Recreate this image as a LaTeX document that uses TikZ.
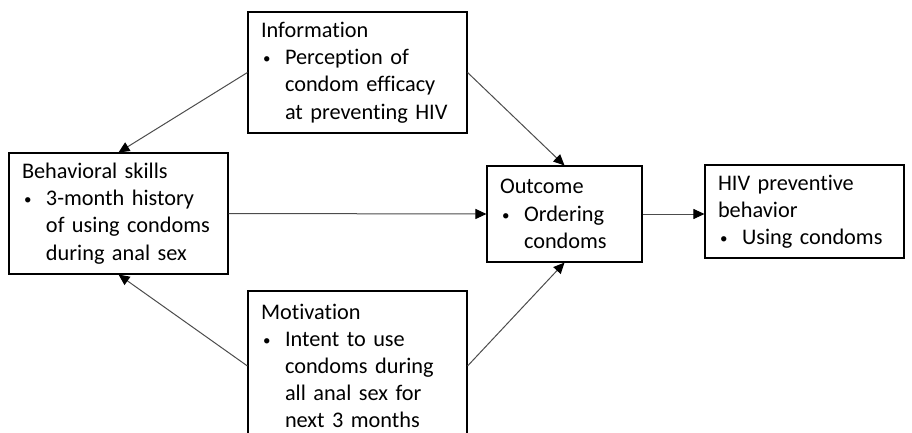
\documentclass[tikz,border=0pt]{standalone}
\usepackage{fontspec}
\setmainfont{Carlito}[Ligatures=NoCommon]
\usetikzlibrary{arrows.meta}

\newcommand{\bul}{\makebox[24pt][l]{\hspace{2pt}\raisebox{1pt}{\fontsize{15}{15}\selectfont\textbullet}}}
\newcommand{\ind}{\hspace*{24pt}}

\tikzset{
  box/.style={draw=black, line width=1.1pt, align=left, inner xsep=13pt, inner ysep=0pt,
    font=\fontsize{22.3}{27.2}\selectfont},
  arr/.style={draw=black!70, line width=1pt, -{Triangle[length=11pt,width=10pt,color=black]}}
}

\begin{document}
\begin{tikzpicture}[x=1pt, y=-1pt]
        \useasboundingbox (0,0) rectangle (912,433);
        \node[box, text width=193pt, minimum height=121pt] (info) at (357.5, 72.5) {Information\\ \bul Perception of\\ \ind condom efficacy\\ \ind at preventing HIV};
        \node[box, text width=193pt, minimum height=121pt] (skills) at (118.5, 213.5) {Behavioral skills\\ \bul 3-month history\\ \ind of using condoms\\ \ind during anal sex};
        \node[box, text width=193pt, minimum height=150pt] (motiv) at (357.5, 366) {Motivation\\ \bul Intent to use\\ \ind condoms during\\ \ind all anal sex for\\ \ind next 3 months};
        \node[box, text width=129pt, minimum height=96pt] (outcome) at (564.5, 214) {Outcome\\ \bul Ordering\\ \ind condoms};
        \node[box, text width=173pt, minimum height=93pt] (hiv) at (804.5, 211.5) {HIV preventive\\ behavior\\ \bul Using condoms};

        \draw[arr] (info.west) -- (skills.north);
        \draw[arr] (motiv.west) -- (skills.south);
        \draw[arr] (info.east) -- (outcome.north);
        \draw[arr] (motiv.east) -- (outcome.south);
        \draw[arr] (skills.east) -- (outcome.west);
        \draw[arr] (outcome.east) -- (outcome.east -| hiv.west);
    \end{tikzpicture}
\end{document}
